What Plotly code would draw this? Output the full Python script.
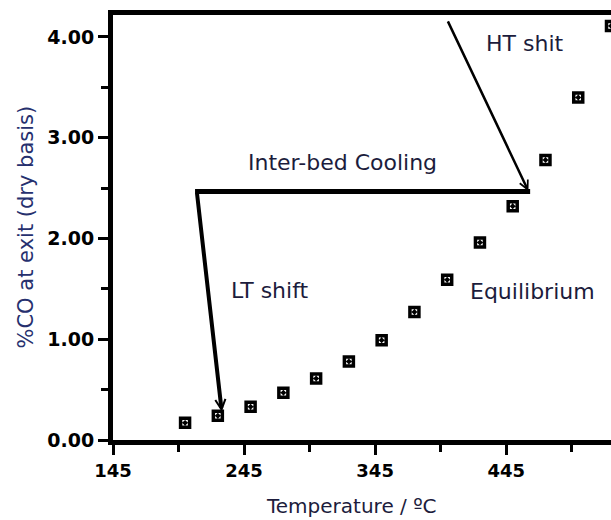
import plotly.graph_objects as go

# Equilibrium data: temperature (°C) and %CO at exit (dry basis)
temperature = [200, 225, 250, 275, 300, 325, 350, 375, 400, 425, 450, 475, 500, 525]
co_exit = [0.17, 0.24, 0.33, 0.47, 0.61, 0.78, 0.99, 1.27, 1.59, 1.96, 2.32, 2.78, 3.40, 4.11]

x_tickvals = [145, 245, 345, 445]
x_ticktext = ["145", "245", "345", "445"]
y_tickvals = [0, 1, 2, 3, 4]
y_ticktext = ["0.00", "1.00", "2.00", "3.00", "4.00"]

# Process path (HT shift -> inter-bed cooling -> LT shift)
ht_start = (400, 4.17)
ht_end = (462, 2.47)
cool_start = (207.6, 2.466)
cool_end = (463.3, 2.466)
lt_start = (209, 2.46)
lt_end = (228, 0.28)

FONT = "DejaVu Sans"
TXT = "#1c1c3c"

fig = go.Figure()
fig.add_trace(go.Scatter(
    x=temperature, y=co_exit, mode="markers",
    marker=dict(symbol="square-open-dot", size=9, color="black",
                line=dict(color="black", width=3.5)),
    showlegend=False, cliponaxis=True,
))

fig.add_shape(type="line", xref="x", yref="y",
              x0=cool_start[0], y0=cool_start[1], x1=cool_end[0], y1=cool_end[1],
              line=dict(color="black", width=5))

fig.add_annotation(x=ht_end[0], y=ht_end[1], ax=ht_start[0], ay=ht_start[1],
                   xref="x", yref="y", axref="x", ayref="y", text="",
                   showarrow=True, arrowhead=5, arrowsize=0.7, arrowwidth=2.5,
                   arrowcolor="black")
fig.add_annotation(x=lt_end[0], y=lt_end[1], ax=lt_start[0], ay=lt_start[1],
                   xref="x", yref="y", axref="x", ayref="y", text="",
                   showarrow=True, arrowhead=5, arrowsize=0.5, arrowwidth=4,
                   arrowcolor="black")

labels = [("HT shit", 458.7, 3.94), ("Inter-bed Cooling", 319.8, 2.75),
          ("LT shift", 264.8, 1.48), ("Equilibrium", 464.8, 1.47)]
for t, lx, ly in labels:
    fig.add_annotation(x=lx, y=ly, xref="x", yref="y", text=t, showarrow=False,
                       font=dict(family=FONT, size=22, color=TXT))

fig.add_annotation(x=-0.1767, y=0.5, xref="paper", yref="paper",
                   xanchor="center", yanchor="middle",
                   text="%CO at exit (dry basis)", textangle=-90, showarrow=False,
                   font=dict(family=FONT, size=21, color="#26306e"))
fig.add_annotation(x=0.479, y=0, yshift=-66, xref="paper", yref="paper",
                   xanchor="center", yanchor="middle",
                   text="Temperature / ºC", showarrow=False,
                   font=dict(family=FONT, size=20, color=TXT))

fig.update_xaxes(range=[145, 525], tickvals=x_tickvals, ticktext=x_ticktext,
                 showline=True, linewidth=5, linecolor="black", mirror=True,
                 ticks="outside", ticklen=10, tickwidth=3, tickcolor="black",
                 minor=dict(tickvals=[195, 295, 395, 495], ticks="outside", ticklen=7,
                            tickwidth=3, tickcolor="black"),
                 showgrid=False, zeroline=False,
                 tickfont=dict(family=FONT, size=18, color="black", weight="bold"))
fig.update_yaxes(range=[0, 4.218], tickvals=y_tickvals, ticktext=y_ticktext,
                 showline=True, linewidth=5, linecolor="black",
                 ticks="outside", ticklen=10, tickwidth=3, tickcolor="black",
                 minor=dict(tickvals=[0.5, 1.5, 2.5, 3.5], ticks="outside", ticklen=7,
                            tickwidth=3, tickcolor="black"),
                 showgrid=False, zeroline=False,
                 tickfont=dict(family=FONT, size=19, color="black", weight="bold"))

fig.update_layout(width=611, height=520, margin=dict(l=113, r=0, t=15, b=80),
                  plot_bgcolor="white", paper_bgcolor="white")
fig.write_html("out.html")
